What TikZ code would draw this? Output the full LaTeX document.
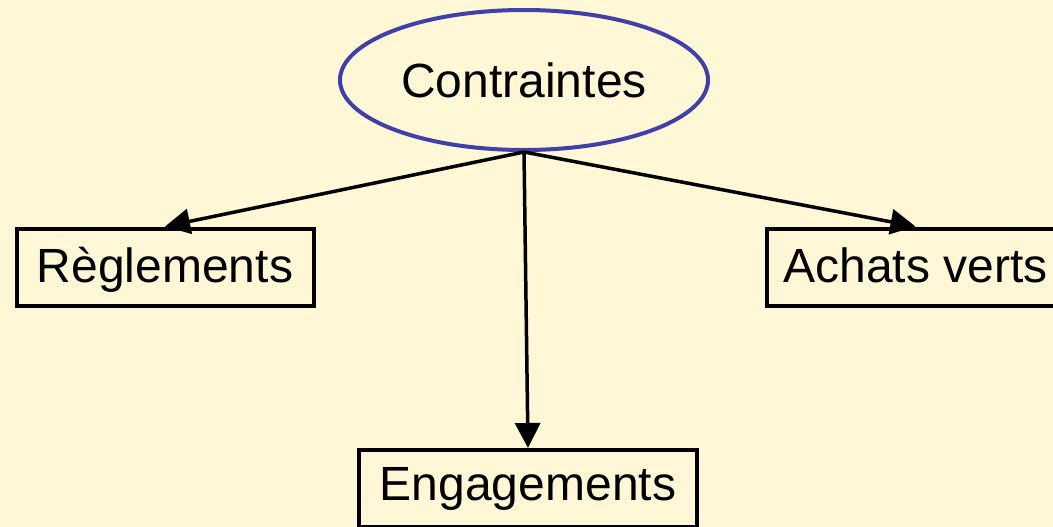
\documentclass[tikz,border=0pt]{standalone}
\usepackage{fontspec}
\setmainfont{Liberation Sans}
\usetikzlibrary{shapes.geometric,arrows.meta}
\definecolor{paper}{RGB}{255,247,214}
\definecolor{rim}{RGB}{64,64,166}
\tikzset{
  box/.style={draw=black, line width=4pt, fill=paper, inner sep=0pt,
    minimum width=297pt, minimum height=77pt,
    font=\fontsize{48}{56}\selectfont, text height=36pt, text depth=5pt},
  topic/.style={ellipse, draw=rim, line width=4pt, fill=paper, inner sep=0pt,
    minimum width=368pt, minimum height=140pt,
    font=\fontsize{48}{56}\selectfont, text height=36pt, text depth=2pt},
  link/.style={line width=3.5pt, -{Triangle[length=25pt,width=25pt]}}
}
\begin{document}
\begin{tikzpicture}[x=1pt,y=-1pt]
  \fill[paper] (0,0) rectangle (1053,527);
  \useasboundingbox (0,0) rectangle (1053,527);
  \node[topic] (c) at (524,80) {Contraintes};
  \node[box] (r) at (165,267) {Règlements};
  \node[box] (a) at (915.5,267) {Achats verts};
  \node[box, minimum width=338pt, text depth=13pt] (e) at (528,488.5) {Engagements};
  \draw[link] (c.south) -- (r.north);
  \draw[link] (c.south) -- (a.north);
  \draw[link] (c.south) -- (e.north);
\end{tikzpicture}
\end{document}
